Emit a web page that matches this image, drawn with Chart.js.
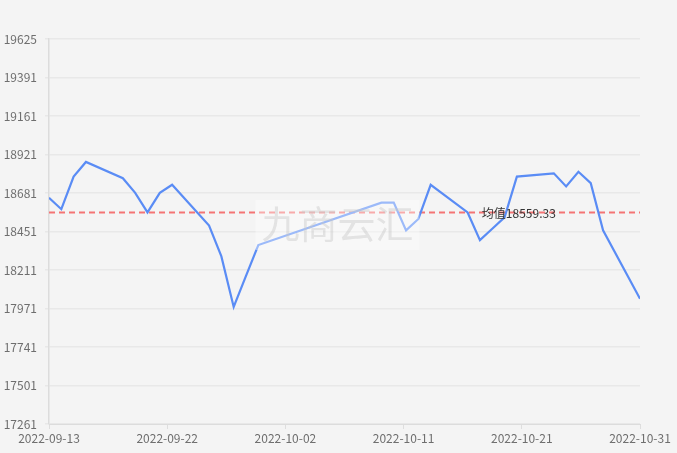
<!DOCTYPE html>
<html>
<head>
<meta charset="utf-8">
<script src="https://cdn.jsdelivr.net/npm/chart.js@4"></script>
<style>
  html, body { margin: 0; padding: 0; background: #f4f4f4; }
  #wrap { width: 677px; height: 453px; position: relative; }
</style>
</head>
<body>
<div id="wrap"><canvas id="priceChart"></canvas></div>
<script>
// price data (trading days only, gaps are weekends / holiday)
const dates = [
  '2022-09-13', '2022-09-14', '2022-09-15', '2022-09-16', '2022-09-19',
  '2022-09-20', '2022-09-21', '2022-09-22', '2022-09-23', '2022-09-26',
  '2022-09-27', '2022-09-28', '2022-09-29', '2022-09-30', '2022-10-10',
  '2022-10-11', '2022-10-12', '2022-10-13', '2022-10-14', '2022-10-17',
  '2022-10-18', '2022-10-19', '2022-10-20', '2022-10-21', '2022-10-24',
  '2022-10-25', '2022-10-26', '2022-10-27', '2022-10-28', '2022-10-31'
];
const prices = [
  18650, 18580, 18780, 18870, 18770,
  18680, 18560, 18680, 18730, 18480,
  18290, 17980, 18170, 18360, 18620,
  18620, 18450, 18520, 18730, 18560,
  18390, 18460, 18530, 18780, 18800,
  18720, 18810, 18740, 18450, 18030
];
const avgValue = 18559.33;
const avgLabel = '均值18559.33';
const yMin = 17261;
const yMax = 19625;
const yTickLabels = ['17261', '17501', '17741', '17971', '18211', '18451', '18681', '18921', '19161', '19391', '19625'];
const xTickLabels = ['2022-09-13', '2022-09-22', '2022-10-02', '2022-10-11', '2022-10-21', '2022-10-31'];

const DAY = 86400000;
const t0 = Date.parse(dates[0]);
const dayOf = d => (Date.parse(d) - t0) / DAY;
const lastDay = dayOf(dates[dates.length - 1]);

const FONT = '"Noto Sans CJK SC", "Noto Sans", sans-serif';

// mean label + watermark
const overlayPlugin = {
  id: 'overlay',
  afterDatasetsDraw(chart) {
    const { ctx, chartArea, scales } = chart;
    const y = scales.y.getPixelForValue(avgValue);
    const x = chartArea.left + (chartArea.right - chartArea.left) * 0.795;
    ctx.save();
    ctx.font = '12px ' + FONT;
    ctx.fillStyle = '#333';
    ctx.textAlign = 'center';
    ctx.textBaseline = 'middle';
    ctx.fillText(avgLabel, x, y + 1);
    ctx.restore();
  },
  afterDraw(chart) {
    const { ctx, chartArea } = chart;
    const cx = (chartArea.left + chartArea.right) / 2 - 7;
    const cy = 224;
    ctx.save();
    ctx.fillStyle = 'rgba(255,255,255,0.4)';
    ctx.fillRect(cx - 82, cy - 24, 164, 50);
    ctx.font = '38px ' + FONT;
    ctx.fillStyle = 'rgba(200,200,200,0.45)';
    ctx.textAlign = 'center';
    ctx.textBaseline = 'middle';
    ctx.fillText('九商云汇', cx, cy);
    ctx.restore();
  }
};

new Chart(document.getElementById('priceChart'), {
  type: 'line',
  data: {
    datasets: [
      {
        label: 'price',
        data: dates.map((d, i) => ({ x: dayOf(d), y: prices[i] })),
        borderColor: '#5a8cf5',
        borderWidth: 2.2,
        pointRadius: 0,
        tension: 0,
        order: 1
      },
      {
        label: 'avg',
        data: [{ x: 0, y: avgValue }, { x: lastDay, y: avgValue }],
        borderColor: '#f47474',
        borderWidth: 2,
        borderDash: [6, 4],
        pointRadius: 0,
        order: 2
      }
    ]
  },
  options: {
    responsive: true,
    maintainAspectRatio: false,
    animation: false,
    layout: { padding: { top: 39, right: 37, left: 0, bottom: 0 } },
    plugins: { legend: { display: false }, tooltip: { enabled: false } },
    scales: {
      x: {
        type: 'linear',
        min: 0,
        max: lastDay,
        afterBuildTicks(scale) {
          scale.ticks = xTickLabels.map((_, i) => ({ value: i * lastDay / (xTickLabels.length - 1) }));
        },
        afterFit(scale) { scale.height = 29; },
        ticks: {
          autoSkip: false,
          maxRotation: 0,
          padding: 2,
          color: '#6e6e6e',
          font: { size: 12, family: FONT },
          callback: (v, i) => xTickLabels[i]
        },
        grid: { display: true, drawOnChartArea: false, color: '#dedede', tickLength: 5 },
        border: { color: '#dcdcdc' }
      },
      y: {
        min: yMin,
        max: yMax,
        afterBuildTicks(scale) {
          const n = yTickLabels.length - 1;
          scale.ticks = yTickLabels.map((_, i) => ({ value: yMin + (yMax - yMin) * i / n }));
        },
        afterFit(scale) { scale.width = 49; },
        ticks: {
          padding: 8,
          color: '#6e6e6e',
          font: { size: 12, family: FONT },
          callback: (v, i) => yTickLabels[i]
        },
        grid: { color: '#e8e8e8', tickLength: 4, lineWidth: 1.5 },
        border: { color: '#dcdcdc', width: 1.5 }
      }
    }
  },
  plugins: [overlayPlugin]
});
</script>
</body>
</html>
